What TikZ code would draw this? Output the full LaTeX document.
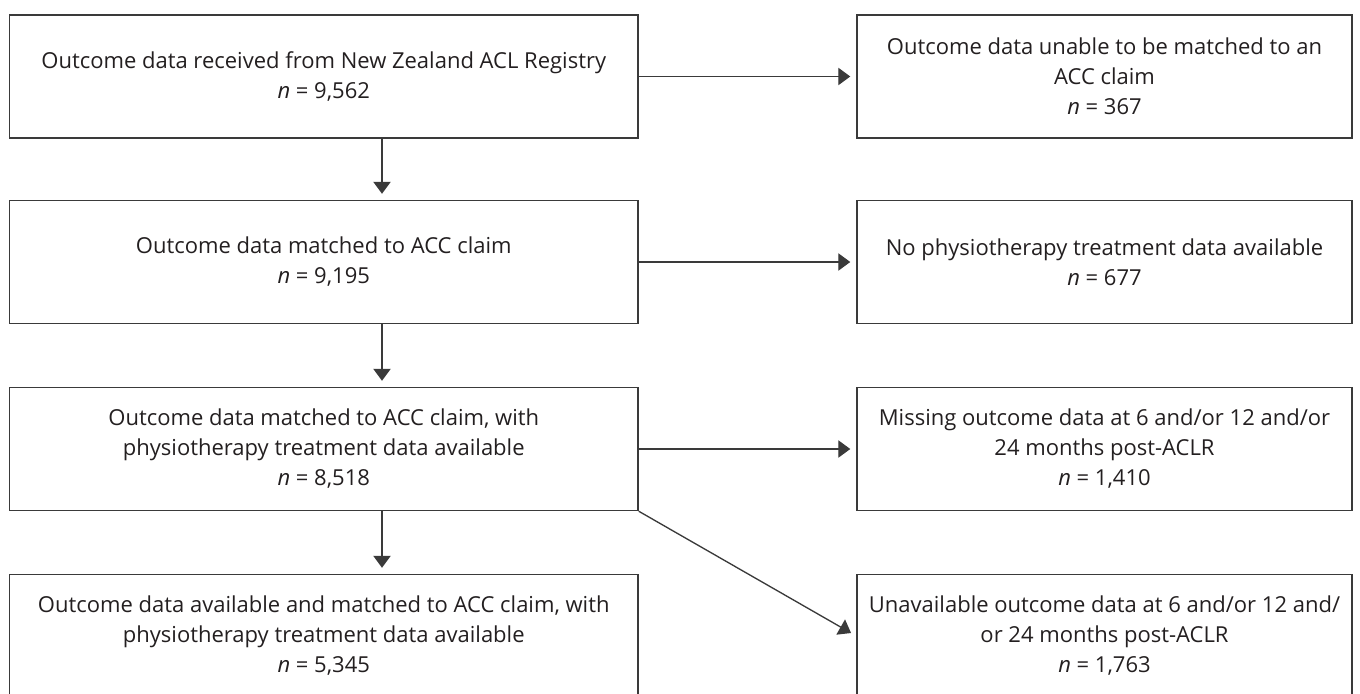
\documentclass[tikz,border=0pt]{standalone}
\usepackage{fontspec}
\setmainfont{Open Sans}
\usepackage{xcolor}
\usetikzlibrary{arrows.meta}
\definecolor{inkgray}{HTML}{231F20}
\definecolor{linegray}{HTML}{3A3A3A}

\begin{document}
\begin{tikzpicture}[x=0.75pt, y=-0.75pt,
		box/.style={draw=linegray, line width=1.1pt, text=inkgray, align=center, inner sep=0pt,
			minimum height=92.25pt, font=\fontsize{16.5}{22.5}\selectfont},
		mainbox/.style={box, minimum width=471.4pt},
		sidebox/.style={box, minimum width=371.25pt},
		flow/.style={draw=linegray, line width=1pt, -{Triangle[length=9pt, width=13pt]}, shorten >=4.5pt}]
		\useasboundingbox (0,0) rectangle (1360,693);
		\node[mainbox] (reg) at (323.75,76.5) {Outcome data received from New Zealand ACL Registry\\ \textit{n} = 9,562};
		\node[mainbox] (matched) at (323.75,262) {Outcome data matched to ACC claim\\ \textit{n} = 9,195};
		\node[mainbox] (physio) at (323.75,449) {Outcome data matched to ACC claim, with\\ physiotherapy treatment data available\\ \textit{n} = 8,518};
		\node[mainbox] (final) at (323.75,636) {Outcome data available and matched to ACC claim, with\\ physiotherapy treatment data available\\ \textit{n} = 5,345};
		\node[sidebox] (unmatched) at (1104.5,76.5) {Outcome data unable to be matched to an\\ ACC claim\\ \textit{n} = 367};
		\node[sidebox] (nophysio) at (1104.5,262) {No physiotherapy treatment data available\\ \textit{n} = 677};
		\node[sidebox] (missing) at (1104.5,449) {Missing outcome data at 6 and/or 12 and/or\\ 24 months post-ACLR\\ \textit{n} = 1,410};
		\node[sidebox] (unavail) at (1104.5,636) {Unavailable outcome data at 6 and/or 12 and/\\ or 24 months post-ACLR\\ \textit{n} = 1,763};
		\coordinate (spine) at (382,0);
		\draw[flow] (reg.south -| spine) -- (matched.north -| spine);
		\draw[flow] (matched.south -| spine) -- (physio.north -| spine);
		\draw[flow] (physio.south -| spine) -- (final.north -| spine);
		\draw[flow] (reg.east) -- (unmatched.west);
		\draw[flow] (matched.east) -- (nophysio.west);
		\draw[flow] (physio.east) -- (missing.west);
		\draw[flow] (physio.south east) -- (unavail.west);
	\end{tikzpicture}
\end{document}
